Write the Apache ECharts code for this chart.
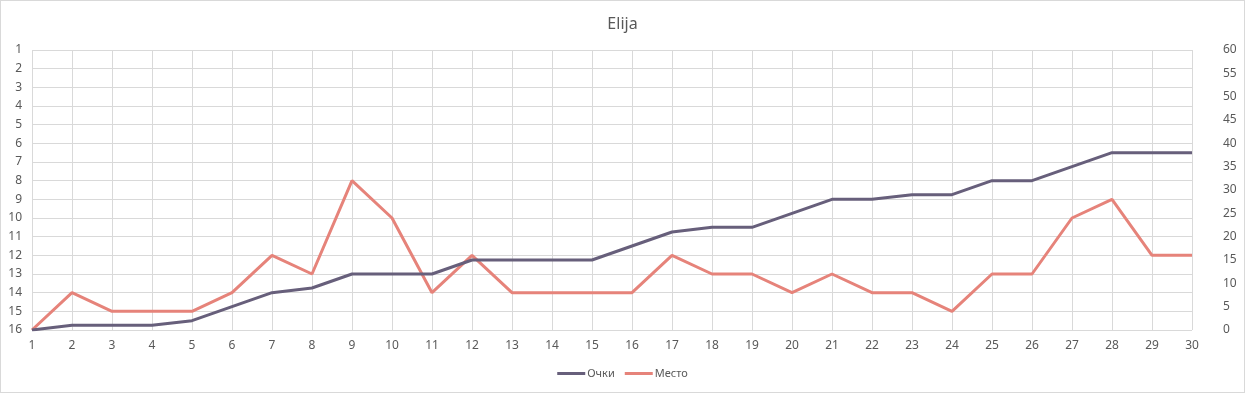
<!DOCTYPE html>
<html><head><meta charset="utf-8">
<script src="https://cdn.jsdelivr.net/npm/echarts@6/dist/echarts.min.js"></script>
<style>
html,body{margin:0;padding:0;background:#fff;}
#c{position:absolute;left:0;top:0;width:1243px;height:391px;border:1px solid #d9d9d9;}
</style></head>
<body><div id="c"></div>
<script>
const categories = ['1','2','3','4','5','6','7','8','9','10','11','12','13','14','15','16','17','18','19','20','21','22','23','24','25','26','27','28','29','30'];
const ochki = [0,1,1,1,2,5,8,9,12,12,12,15,15,15,15,18,21,22,22,25,28,28,29,29,32,32,35,38,38,38];
const mesto = [16,14,15,15,15,14,12,13,8,10,14,12,14,14,14,14,12,13,13,14,13,14,14,15,13,13,10,9,12,12];
const titleText = 'Elija';
const seriesNames = ['Очки','Место'];

const chart = echarts.init(document.getElementById('c'), null, {renderer:'canvas'});
const txt = '#595959', grid = '#d9d9d9';
const font = 'Noto Sans';
const gridRect = {left:31, right:52, top:49, bottom:62};
chart.setOption({
  animation:false,
  textStyle:{fontFamily:font},
  title:{text:titleText,left:'center',top:10,textStyle:{fontSize:16,fontWeight:'normal',color:txt,fontFamily:font}},
  legend:{bottom:8,left:'center',icon:'rect',itemWidth:28,itemHeight:3,itemGap:10,
    textStyle:{fontSize:11,color:txt,fontFamily:font,padding:[0,0,0,-3]},data:seriesNames},
  grid:[Object.assign({},gridRect),Object.assign({},gridRect)],
  xAxis:[
    {type:'category',data:categories,boundaryGap:false,gridIndex:0,
     axisLine:{show:false},axisTick:{show:false},
     axisLabel:{color:txt,fontSize:12,margin:10,interval:0},
     splitLine:{show:true,lineStyle:{color:grid,width:1}}},
    {type:'value',gridIndex:1,min:0,max:1,show:false}
  ],
  yAxis:[
    {type:'value',gridIndex:0,position:'left',min:1,max:16,interval:1,inverse:true,
     axisLine:{show:false},axisTick:{show:false},
     axisLabel:{color:txt,fontSize:12,margin:10},
     splitLine:{show:true,lineStyle:{color:grid,width:1}}},
    {type:'value',gridIndex:0,position:'right',min:0,max:60,interval:5,
     axisLine:{show:false},axisTick:{show:false},
     axisLabel:{color:txt,fontSize:12,margin:31,align:'left'},
     splitLine:{show:false}},
    {type:'value',gridIndex:1,position:'right',min:1,max:16,interval:1,inverse:true,
     axisLine:{show:false},axisTick:{show:true,length:20,lineStyle:{color:grid,width:1}},
     axisLabel:{show:false},splitLine:{show:false}}
  ],
  series:[
    {name:seriesNames[0],type:'line',xAxisIndex:0,yAxisIndex:1,data:ochki,symbol:'none',
     lineStyle:{color:'#675f7b',width:3},itemStyle:{color:'#675f7b'},z:3},
    {name:seriesNames[1],type:'line',xAxisIndex:0,yAxisIndex:0,data:mesto,symbol:'none',
     lineStyle:{color:'#e6837a',width:3},itemStyle:{color:'#e6837a'},z:2}
  ]
});
</script></body></html>
